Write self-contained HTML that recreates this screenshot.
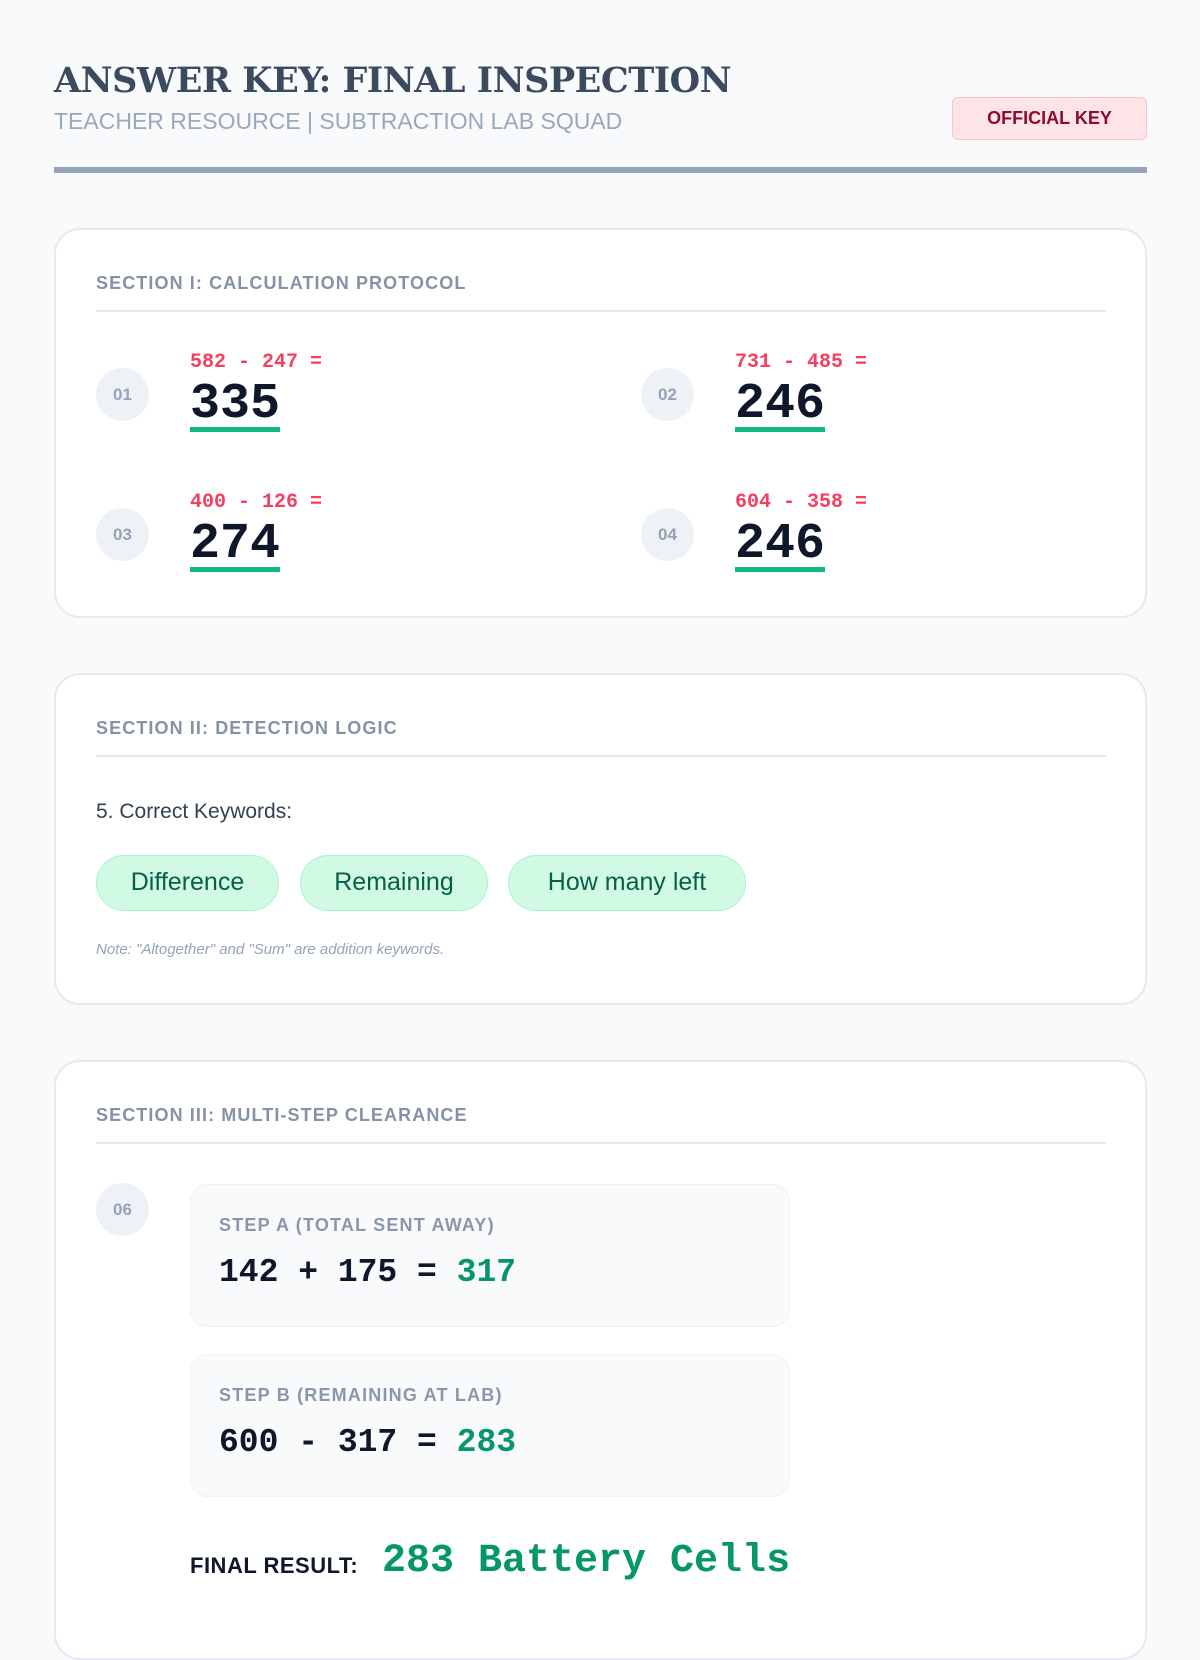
<!DOCTYPE html>
<html><head><style>
*{margin:0;padding:0;box-sizing:border-box}
body{width:1200px;height:1600px;background:#f8fafc;font-family:"Liberation Sans",sans-serif;position:relative;overflow:hidden}
.abs{position:absolute}
h1{position:absolute;left:54px;top:60px;font-family:"DejaVu Serif","Liberation Serif",serif;font-weight:bold;font-size:35px;color:#3b4a5e;letter-spacing:-0.5px;white-space:nowrap}
.sub{left:54px;top:108px;font-size:23px;color:#9aa8bb;white-space:nowrap}
.badge{left:952px;top:97px;width:195px;height:43px;background:#fde4e7;border:1.5px solid #f9c4cc;border-radius:6px;color:#8a0f2e;font-weight:bold;font-size:18px;text-align:center;line-height:40px}
.rule{left:54px;top:167px;width:1093px;height:6px;background:#94a3b8}
.card{position:absolute;left:54px;width:1093px;background:#fff;border:2px solid #e5eaf1;border-radius:26px}
.st{position:absolute;left:40px;font-size:18px;font-weight:bold;color:#8592a6;letter-spacing:1.1px}
.dv{position:absolute;left:40px;width:1010px;height:2px;background:#e5e7eb}
.circ{position:absolute;width:53px;height:53px;border-radius:50%;background:#eef2f7;color:#94a3b8;font-weight:bold;font-size:17px;text-align:center;line-height:53px}
.eq{position:absolute;font-family:"Liberation Mono",monospace;font-weight:bold;font-size:20px;color:#f43f5e;white-space:pre}
.ans{position:absolute;font-family:"Liberation Mono",monospace;font-weight:bold;font-size:50px;color:#0f172a;line-height:44px;border-bottom:5px solid #10b981;padding-bottom:0}
.pill{position:absolute;top:180px;height:56px;background:#d1fae5;border:1.5px solid #a7f3d0;border-radius:28px;color:#065f46;font-size:25px;line-height:53px;text-align:center}
.box{position:absolute;left:134px;width:600px;height:143px;background:#f8fafc;border:1.5px solid #eef1f5;border-radius:18px}
.bl{position:absolute;left:28px;top:30px;font-size:18px;font-weight:bold;color:#8a97ab;letter-spacing:1.2px}
.be{position:absolute;left:28px;top:69px;font-family:"Liberation Mono",monospace;font-weight:bold;font-size:33px;color:#0f172a;white-space:pre}
.g{color:#059669}
</style></head><body>
<h1>ANSWER KEY: FINAL INSPECTION</h1>
<div class="abs sub">TEACHER RESOURCE | SUBTRACTION LAB SQUAD</div>
<div class="abs badge">OFFICIAL KEY</div>
<div class="abs rule"></div>

<div class="card" style="top:228px;height:390px">
<div class="st" style="top:43px">SECTION I: CALCULATION PROTOCOL</div>
<div class="dv" style="top:80px"></div>
<div class="circ" style="left:40px;top:138px">01</div>
<div class="eq" style="left:134px;top:121px">582 - 247 =</div>
<div class="ans" style="left:134px;top:153px">335</div>
<div class="circ" style="left:585px;top:138px">02</div>
<div class="eq" style="left:679px;top:121px">731 - 485 =</div>
<div class="ans" style="left:679px;top:153px">246</div>
<div class="circ" style="left:40px;top:278px">03</div>
<div class="eq" style="left:134px;top:261px">400 - 126 =</div>
<div class="ans" style="left:134px;top:293px">274</div>
<div class="circ" style="left:585px;top:278px">04</div>
<div class="eq" style="left:679px;top:261px">604 - 358 =</div>
<div class="ans" style="left:679px;top:293px">246</div>
</div>

<div class="card" style="top:673px;height:332px">
<div class="st" style="top:43px">SECTION II: DETECTION LOGIC</div>
<div class="dv" style="top:80px"></div>
<div class="abs" style="left:40px;top:125px;font-size:21px;color:#334155">5. Correct Keywords:</div>
<div class="pill" style="left:40px;width:183px">Difference</div>
<div class="pill" style="left:244px;width:188px">Remaining</div>
<div class="pill" style="left:452px;width:238px">How many left</div>
<div class="abs" style="left:40px;top:266px;font-size:15px;font-style:italic;color:#94a3b8">Note: "Altogether" and "Sum" are addition keywords.</div>
</div>

<div class="card" style="top:1060px;height:600px">
<div class="st" style="top:43px">SECTION III: MULTI-STEP CLEARANCE</div>
<div class="dv" style="top:80px"></div>
<div class="circ" style="left:40px;top:121px">06</div>
<div class="box" style="top:122px"><div class="bl">STEP A (TOTAL SENT AWAY)</div><div class="be">142 + 175 = <span class="g">317</span></div></div>
<div class="box" style="top:292px"><div class="bl">STEP B (REMAINING AT LAB)</div><div class="be">600 - 317 = <span class="g">283</span></div></div>
<div class="abs" style="left:134px;top:491px;font-size:22px;font-weight:bold;color:#0f172a;letter-spacing:0.5px">FINAL RESULT:</div>
<div class="abs" style="left:326px;top:477px;font-family:'Liberation Mono',monospace;font-weight:bold;font-size:40px;color:#059669;white-space:pre">283 Battery Cells</div>
</div>
</body></html>
